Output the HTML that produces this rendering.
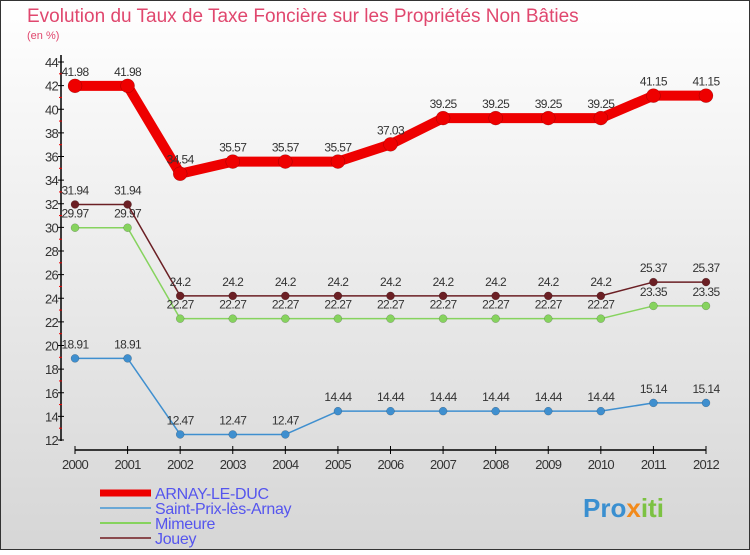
<!DOCTYPE html>
<html><head><meta charset="utf-8"><style>
body{margin:0;width:750px;height:550px;overflow:hidden;font-family:"Liberation Sans",sans-serif}
</style></head><body>
<svg width="750" height="550" xmlns="http://www.w3.org/2000/svg">
<defs><linearGradient id="bg" x1="0" y1="0" x2="0" y2="1"><stop offset="0" stop-color="#ffffff"/><stop offset="1" stop-color="#d6d6d6"/></linearGradient></defs>
<rect x="0.5" y="0.5" width="749" height="549" fill="url(#bg)" stroke="#333"/>
<text x="27" y="22" font-size="19" fill="#e0476e">Evolution du Taux de Taxe Foncière sur les Propriétés Non Bâties</text>
<text x="27" y="39" font-size="11" fill="#e0476e">(en %)</text>
<g id="axes"></g><g id="series"></g><g id="legend"></g>
<text x="583" y="517" font-size="26" font-weight="bold" fill="#3a8fd0">Pro<tspan fill="#f28a1b">x</tspan><tspan fill="#7cc242">iti</tspan></text>
</svg>
<script>
const years=[2000,2001,2002,2003,2004,2005,2006,2007,2008,2009,2010,2011,2012];
const arnay=[41.98,41.98,34.54,35.57,35.57,35.57,37.03,39.25,39.25,39.25,39.25,41.15,41.15];
const saint=[18.91,18.91,12.47,12.47,12.47,14.44,14.44,14.44,14.44,14.44,14.44,15.14,15.14];
const mimeure=[29.97,29.97,22.27,22.27,22.27,22.27,22.27,22.27,22.27,22.27,22.27,23.35,23.35];
const jouey=[31.94,31.94,24.2,24.2,24.2,24.2,24.2,24.2,24.2,24.2,24.2,25.37,25.37];
const yTicks=[12,14,16,18,20,22,24,26,28,30,32,34,36,38,40,42,44];
const NS="http://www.w3.org/2000/svg";
const x=i=>75+i*(631/12);
const y=v=>440-(v-12)*(378/32);
function mk(t,a,p){const e=document.createElementNS(NS,t);for(const k in a)e.setAttribute(k,a[k]);(p||document.getElementById('axes')).appendChild(e);return e;}
let e=mk('line',{x1:61,y1:55,x2:61,y2:441,stroke:'#000','stroke-width':1.5});

e=mk('line',{x1:75,y1:450,x2:706,y2:450,stroke:'#000','stroke-width':1.5});

yTicks.forEach(v=>{
 mk('line',{x1:58,y1:y(v),x2:64,y2:y(v),stroke:'#000'});
 if(v<44) mk('line',{x1:59,y1:y(v+1),x2:62,y2:y(v+1),stroke:'#e00'});
 const t=mk('text',{x:58,y:y(v)+5,'font-size':13,'text-anchor':'end',fill:'#333','letter-spacing':'-0.7'});
 t.textContent=v;
 
 
});
years.forEach((yr,i)=>{
 mk('line',{x1:x(i),y1:446,x2:x(i),y2:454,stroke:'#000'});
 const t=mk('text',{x:x(i),y:469,'font-size':13,'text-anchor':'middle',fill:'#333','letter-spacing':'-0.7'});
 t.textContent=yr;
 
 
});
const sg=document.getElementById('series');
function series(vals,color,w,r,name){
 const g=mk('g',{},sg);
 
 
 mk('polyline',{points:vals.map((v,i)=>x(i)+','+y(v)).join(' '),fill:'none',stroke:color,'stroke-width':w,'stroke-linejoin':'round'},g);
 vals.forEach((v,i)=>{
  const c=mk('circle',{cx:x(i),cy:y(v),r:r,fill:color,stroke:'rgba(0,0,0,0.3)','stroke-width':0.5},g);
  
  
  const t=mk('text',{x:x(i),y:y(v)-10,'font-size':12,'text-anchor':'middle',fill:'#333','letter-spacing':'-0.6'},g);
  t.textContent=v;
  
  
 });
}
series(saint,'#3f8fcf',1.5,4,'saint-prix');
series(mimeure,'#86d35e',1.5,4,'mimeure');
series(jouey,'#6b1f24',1.5,4,'jouey');
series(arnay,'#ee0000',10,7,'arnay');
const lg=document.getElementById('legend');
const items=[['ARNAY-LE-DUC','#ee0000',7],['Saint-Prix-lès-Arnay','#6aa8d6',2],['Mimeure','#86d35e',2],['Jouey','#8a4a4e',2]];
items.forEach((it,k)=>{
 const yy=493+k*15;
 const g=mk('g',{},lg);
 
 
 mk('line',{x1:100,y1:yy,x2:151,y2:yy,stroke:it[1],'stroke-width':it[2]},g);
 const t=mk('text',{x:155,y:yy+6,'font-size':16,fill:'#5555ee','letter-spacing':'-0.3'},g);
 t.textContent=it[0];
});
</script>
</body></html>
